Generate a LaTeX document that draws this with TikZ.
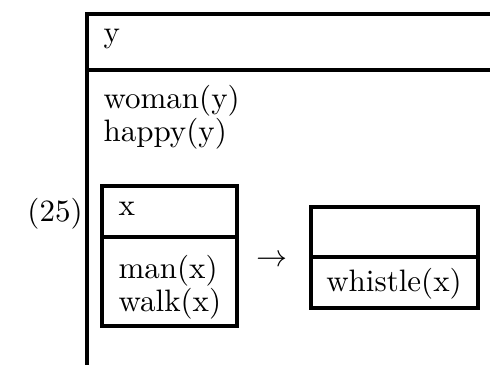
\documentclass[tikz,border=0pt]{standalone}
\begin{document}
\begin{tikzpicture}[x=0.3226pt,y=-0.3226pt,
  rule/.style={line width=1pt},
  txt/.style={inner sep=0pt,anchor=base west}]
\useasboundingbox (0,0) rectangle (490,364);
% outer DRS: universe {y}, open to the right and below
\draw[rule] (500,14) -- (87,14) -- (87,380);
\draw[rule] (87,70) -- (500,70);
\node[txt] (u) at (103,42) {y};
\node[txt] (c1) at (103,108) {woman(y)};
\node[txt] (c2) at (103,141) {happy(y)};
\node[inner sep=0pt,anchor=base] (num) at (55,221) {(25)};
% antecedent box
\draw[rule] (102,186) rectangle (237,326);
\draw[rule] (102,237) -- (237,237);
\node[txt] (ax) at (118,215) {x};
\node[txt] (a1) at (118,278) {man(x)};
\node[txt] (a2) at (118,311) {walk(x)};
% implication arrow
\node[inner sep=0pt,anchor=base] (imp) at (272,266) {$\rightarrow$};
% consequent box
\draw[rule] (311,207) rectangle (478,308);
\draw[rule] (311,257) -- (478,257);
\node[inner sep=0pt,anchor=base] (k1) at (394,291) {whistle(x)};
\end{tikzpicture}
\end{document}
